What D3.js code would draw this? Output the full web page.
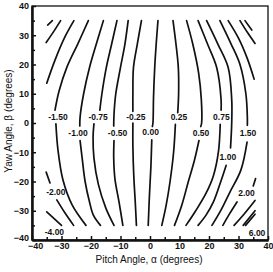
<!DOCTYPE html>
<html>
<head>
<meta charset="utf-8">
<script src="https://cdn.jsdelivr.net/npm/d3@7"></script>
<style>
  body { margin: 0; background: #fff; }
  svg { display: block; font-family: "Liberation Sans", Arial, sans-serif; }
</style>
</head>
<body>
<div id="chart"></div>
<script>
// axis ticks (degrees)
const majorTicks = [-40, -30, -20, -10, 0, 10, 20, 30, 40];
const minorTicks = [-35, -25, -15, -5, 5, 15, 25, 35];

// contour lines, [pitch alpha, yaw beta]
// each level can be split in pieces where its label sits
const lineM6 = [[-34.7, 33.5], [-33.1, 35]];
const lineM4Top = [[-35.2, 27.5], [-32.5, 31.5], [-30.3, 35]];
const lineM4Bot = [[-35, -30.4], [-32.5, -32.7], [-30, -35]];
const lineM2Top = [[-35, 13.6], [-32.2, 21.5], [-28.8, 29.5], [-25.8, 35]];
const lineM2Bot1 = [[-35.2, -16.8], [-33.9, -20.5]];
const lineM2Bot2 = [[-31.6, -26.3], [-28.8, -30.8], [-25.9, -35]];
const lineM150Top = [[-20.9, 35], [-24.5, 27], [-28.2, 19], [-30.8, 11], [-32.2, 4.4]];
const lineM150Bot = [[-31.9, -0.3], [-31.2, -9.2], [-29.5, -19.5], [-26.4, -28], [-21.7, -35]];
const lineM100Top = [[-15.8, 35], [-18.2, 27], [-20.5, 19], [-22.5, 10], [-23.7, 2], [-23.8, -1]];
const lineM100Bot = [[-23.7, -6], [-23, -12], [-22, -20], [-20.5, -27], [-19.2, -31.5], [-16.8, -35]];
const lineM075Top = [[-11.2, 35], [-13, 27], [-14.8, 19], [-16.3, 10], [-17, 4.4]];
const lineM075Bot = [[-19, -0.3], [-19.3, -5], [-19, -12], [-17.5, -21], [-15, -29], [-12.2, -35]];
const lineM050Top = [[-7.4, 35], [-8.5, 27], [-10, 19], [-11.6, 10], [-12.2, 3], [-12.3, -1]];
const lineM050Bot = [[-12.2, -6], [-12.3, -12], [-11.9, -19], [-10.5, -27], [-9.2, -35]];
const lineM025Top = [[-2.9, 35], [-4.3, 27], [-5.6, 19], [-5.8, 10], [-5.8, 4]];
const lineM025Bot = [[-5.8, 0], [-5.8, -8], [-5.5, -18], [-5, -27], [-4.6, -35]];
const line000Top = [[2.7, 35], [2.1, 27], [1.6, 19], [1.2, 9], [1.0, 0], [0.8, -1.2]];
const line000Bot = [[0.6, -5.8], [0.3, -15], [-0.2, -25], [-0.6, -35]];
const line025Top = [[7.8, 35], [8.8, 27], [9.6, 19], [9.7, 10], [9.4, 3.5]];
const line025Bot = [[8.6, -0.5], [8, -10], [6.8, -20], [5.5, -28], [4, -35]];
const line050Top = [[12.4, 35], [14.5, 27], [16.5, 17], [17.4, 8], [17.5, 0], [17.2, -1.2]];
const line050Bot = [[16.6, -6], [15, -13], [13, -20], [10.8, -28], [8.3, -35]];
const line075Top = [[16.3, 35], [19.5, 27], [22.6, 19], [24.1, 8], [24.1, 4.4]];
const line075Bot = [[23.8, -0.5], [23.2, -9.8], [21.5, -18], [19, -24], [15.5, -30], [12.2, -35]];
const line100Top = [[19.2, 35], [23, 27], [26.5, 19], [27.7, 8], [27.7, 0], [27.3, -8.5]];
const line100Bot = [[25.8, -14.5], [24, -20], [21.5, -27], [19, -31.5], [16.3, -35]];
const line150Top = [[23.7, 35], [27.5, 27], [30.5, 20], [32.5, 10], [33, 2], [33, -0.8]];
const line150Bot = [[32.9, -6.5], [30.8, -16.1], [27.1, -23.6], [24.1, -29.7], [21, -35]];
const line200Top = [[26.5, 35], [30, 29], [33, 22], [35.3, 15]];
const line200Bot1 = [[35.8, -19], [35, -21.5]];
const line200Bot2 = [[29.5, -27], [27, -31], [24.7, -35]];
const line400Top = [[30.5, 35], [33, 31], [35.6, 27.2]];
const line400Bot = [[35.6, -26.5], [32, -31], [28.5, -35]];
const line600Top = [[32.2, 35], [34.5, 31.8]];
const line600Bot = [[35.6, -30], [31.6, -35]];
const line800Bot = [[35.6, -31.2], [32.4, -35]];

const contourLines = [
  lineM6, lineM4Top, lineM4Bot, lineM2Top, lineM2Bot1, lineM2Bot2,
  lineM150Top, lineM150Bot, lineM100Top, lineM100Bot, lineM075Top, lineM075Bot,
  lineM050Top, lineM050Bot, lineM025Top, lineM025Bot, line000Top, line000Bot,
  line025Top, line025Bot, line050Top, line050Bot, line075Top, line075Bot,
  line100Top, line100Bot, line150Top, line150Bot, line200Top, line200Bot1, line200Bot2,
  line400Top, line400Bot, line600Top, line600Bot, line800Bot
];

// contour labels: text and where they sit [alpha, beta]
const labelText = ["-1.50", "-0.75", "-0.25", "0.25", "0.75",
                   "-1.00", "-0.50", "0.00", "0.50", "1.50",
                   "1.00", "-2.00", "2.00", "-4.00", "6.00"];
const labelAt = [[-31.2, 2.1], [-17.6, 2.1], [-4.8, 2.1], [9.8, 2.1], [24.2, 2.1],
                 [-24.4, -3.4], [-11, -3.4], [0.2, -3.2], [17.3, -3.4], [33.2, -3.4],
                 [26.4, -11.6], [-31.9, -23.5], [32.7, -24], [-32.4, -37.2], [36.3, -37.6]];

const W = 273, H = 272;
const svg = d3.select("#chart").append("svg")
  .attr("width", W)
  .attr("height", H);

const x = d3.scaleLinear().domain([-40, 40]).range([32, 268]);
const y = d3.scaleLinear().domain([-40, 40]).range([240, 6]);

// frame
svg.append("rect")
  .attr("x", x(-40)).attr("y", y(40))
  .attr("width", x(40) - x(-40)).attr("height", y(-40) - y(40))
  .attr("fill", "none").attr("stroke", "#111").attr("stroke-width", 1.3);

// bottom axis, ticks point inside
svg.append("g")
  .attr("class", "xaxis")
  .attr("transform", `translate(0,${y(-40)})`)
  .call(d3.axisBottom(x).tickValues(majorTicks).tickSizeInner(-4).tickSizeOuter(0).tickPadding(3));
svg.append("g")
  .attr("transform", `translate(0,${y(-40)})`)
  .call(d3.axisBottom(x).tickValues(minorTicks).tickSizeInner(-3).tickSizeOuter(0).tickFormat(""));

svg.append("g")
  .attr("class", "yaxis")
  .attr("transform", `translate(${x(-40)},0)`)
  .call(d3.axisLeft(y).tickValues(majorTicks).tickSizeInner(-4).tickSizeOuter(0).tickPadding(3));
svg.append("g")
  .attr("transform", `translate(${x(-40)},0)`)
  .call(d3.axisLeft(y).tickValues(minorTicks).tickSizeInner(-3).tickSizeOuter(0).tickFormat(""));

svg.selectAll(".domain").attr("stroke", "#111").attr("stroke-width", 2);
svg.selectAll(".tick line").attr("stroke", "#111").attr("stroke-width", 1.5);
svg.selectAll(".tick text")
  .attr("font-size", 9)
  .attr("font-weight", "bold")
  .attr("fill", "#111")
  .style("font-family", "'Liberation Sans', Arial, sans-serif");

// corner labels crowd each other, nudge them apart a little
svg.selectAll(".yaxis .tick text").filter(d => d === -40).attr("dy", "0.05em");
svg.selectAll(".xaxis .tick text").filter(d => d === -40).attr("dx", "0.35em");

// contour lines
const line = d3.line()
  .x(d => x(d[0]))
  .y(d => y(d[1]))
  .curve(d3.curveCatmullRom.alpha(0.5));

svg.append("g").selectAll("path")
  .data(contourLines)
  .enter()
  .append("path")
  .attr("d", line)
  .attr("fill", "none")
  .attr("stroke", "#111")
  .attr("stroke-width", 1.7)
  .attr("stroke-linecap", "round");

// contour labels
svg.append("g").selectAll("text")
  .data(labelText)
  .enter()
  .append("text")
  .attr("x", (d, i) => x(labelAt[i][0]))
  .attr("y", (d, i) => y(labelAt[i][1]))
  .attr("text-anchor", "middle")
  .attr("dominant-baseline", "central")
  .attr("font-size", 8.5)
  .attr("font-weight", "bold")
  .attr("fill", "#111")
  .text(d => d);

// axis titles
svg.append("text")
  .attr("x", 149)
  .attr("y", 263)
  .attr("text-anchor", "middle")
  .attr("font-size", 10)
  .attr("fill", "#111")
  .text("Pitch Angle, α (degrees)");

svg.append("text")
  .attr("transform", "rotate(-90)")
  .attr("x", -121)
  .attr("y", 12)
  .attr("text-anchor", "middle")
  .attr("font-size", 10)
  .attr("fill", "#111")
  .text("Yaw Angle, β (degrees)");
</script>
</body>
</html>
